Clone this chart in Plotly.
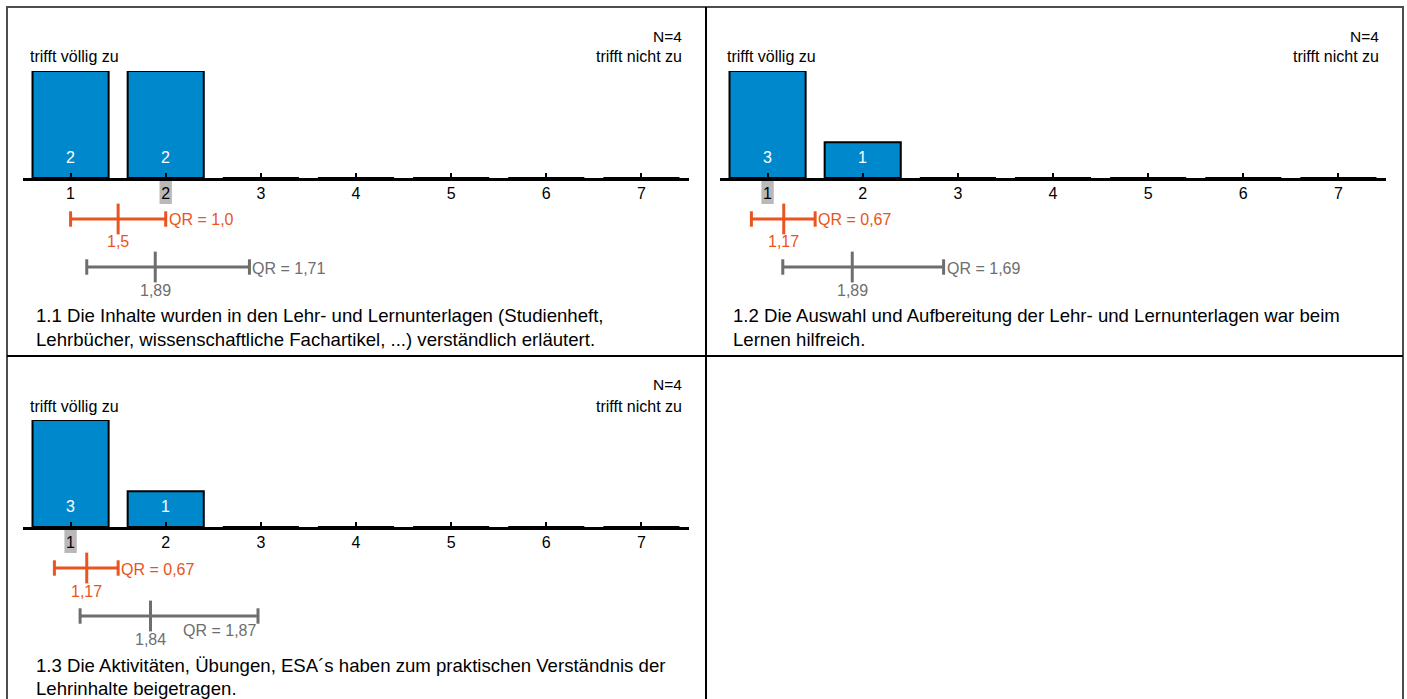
import plotly.graph_objects as go

# ---------------- data ----------------
categories = [1, 2, 3, 4, 5, 6, 7]
tick_labels = ["1", "2", "3", "4", "5", "6", "7"]

counts_11 = [2, 2, 0, 0, 0, 0, 0]
counts_12 = [3, 1, 0, 0, 0, 0, 0]
counts_13 = [3, 1, 0, 0, 0, 0, 0]
counts = [counts_11, counts_12, counts_13]

n_values = [4, 4, 4]
medians = [2, 1, 1]

own_mean = [1.5, 1.17, 1.17]
own_q1 = [1.0, 0.83, 0.83]
own_q3 = [2.0, 1.5, 1.5]
own_mean_labels = ["1,5", "1,17", "1,17"]
own_qr_labels = ["QR = 1,0", "QR = 0,67", "QR = 0,67"]

cmp_mean = [1.89, 1.89, 1.84]
cmp_q1 = [1.17, 1.16, 1.10]
cmp_q3 = [2.88, 2.85, 2.97]
cmp_mean_labels = ["1,89", "1,89", "1,84"]
cmp_qr_labels = ["QR = 1,71", "QR = 1,69", "QR = 1,87"]

questions = [
    ["1.1 Die Inhalte wurden in den Lehr- und Lernunterlagen (Studienheft,",
     "Lehrbücher, wissenschaftliche Fachartikel, ...) verständlich erläutert."],
    ["1.2 Die Auswahl und Aufbereitung der Lehr- und Lernunterlagen war beim",
     "Lernen hilfreich."],
    ["1.3 Die Aktivitäten, Übungen, ESA´s haben zum praktischen Verständnis der",
     "Lehrinhalte beigetragen."],
]
left_label = "trifft völlig zu"
right_label = "trifft nicht zu"

# ---------------- layout helpers ----------------
W, H = 1407, 699
FONT = "Liberation Sans, Arial, sans-serif"
BLUE = "#0088CC"
ORANGE = "#EA5420"
GREY = "#6E6E6E"
GREY_TXT = "#6E6E6E"


def px(x):
    return x / W


def py(y):
    return 1 - y / H


offsets = [(0, 0), (697, 0), (0, 349)]  # panel offsets in pixels
cmp_label_below = [False, False, True]

fig = go.Figure()
annotations = []
shapes = []
layout_axes = {}

ROW_OWN = 219
ROW_CMP = 267

for i in range(3):
    dx, dy = offsets[i]
    k = i + 1
    xa = "x" if k == 1 else f"x{k}"
    ya = "y" if k == 1 else f"y{k}"
    yq = f"y{k + 3}"
    xname = "xaxis" if k == 1 else f"xaxis{k}"
    yname = "yaxis" if k == 1 else f"yaxis{k}"
    yqname = f"yaxis{k + 3}"
    ymax = max(counts[i])

    layout_axes[xname] = dict(
        domain=[px(23 + dx), px(689 + dx)], range=[0.5, 7.5], anchor=ya,
        tickmode="array", tickvals=categories, ticktext=tick_labels,
        showline=True, linecolor="black", linewidth=3,
        ticks="inside", ticklen=5, tickwidth=2, tickcolor="black",
        showgrid=False, zeroline=False, fixedrange=True,
        tickfont=dict(family=FONT, size=16, color="black"),
        ticklabelstandoff=-1,
    )
    layout_axes[yname] = dict(
        domain=[py(178 + dy), py(71 + dy)], range=[0, ymax], anchor=xa,
        visible=False, fixedrange=True,
    )
    layout_axes[yqname] = dict(
        domain=[py(300 + dy), py(195 + dy)], range=[300, 195], anchor=xa,
        visible=False, fixedrange=True,
    )

    # bars
    fig.add_trace(go.Bar(
        x=categories, y=counts[i], width=0.8, xaxis=xa, yaxis=ya,
        marker=dict(color=BLUE, line=dict(color="black", width=2)),
        showlegend=False, hoverinfo="skip",
    ))
    for c, v in zip(categories, counts[i]):
        if v > 0:
            annotations.append(dict(
                x=c, y=0, xref=xa, yref=ya, text=str(v), showarrow=False,
                xanchor="center", yanchor="middle", yshift=21,
                font=dict(family=FONT, size=16, color="white")))

    # interval bars
    for (q1, q3, m, row, col) in [
        (own_q1[i], own_q3[i], own_mean[i], ROW_OWN, ORANGE),
        (cmp_q1[i], cmp_q3[i], cmp_mean[i], ROW_CMP, GREY),
    ]:
        fig.add_trace(go.Scatter(
            x=[q1, q3], y=[row, row], mode="lines", xaxis=xa, yaxis=yq,
            line=dict(color=col, width=3), showlegend=False, hoverinfo="skip",
        ))
        fig.add_trace(go.Scatter(
            x=[q1, q3], y=[row, row], mode="markers", xaxis=xa, yaxis=yq,
            marker=dict(symbol="line-ns", size=11, line=dict(color=col, width=3)),
            showlegend=False, hoverinfo="skip",
        ))
        fig.add_trace(go.Scatter(
            x=[m], y=[row], mode="markers", xaxis=xa, yaxis=yq,
            marker=dict(symbol="line-ns", size=22, line=dict(color=col, width=3)),
            showlegend=False, hoverinfo="skip",
        ))

    # interval labels
    annotations.append(dict(
        x=own_mean[i], y=ROW_OWN + 23, xref=xa, yref=yq, text=own_mean_labels[i],
        showarrow=False, xanchor="center", yanchor="middle",
        font=dict(family=FONT, size=16, color=ORANGE)))
    annotations.append(dict(
        x=own_q3[i], y=ROW_OWN + 1, xref=xa, yref=yq, text=own_qr_labels[i],
        showarrow=False, xanchor="left", yanchor="middle", xshift=1,
        font=dict(family=FONT, size=16, color=ORANGE)))
    annotations.append(dict(
        x=cmp_mean[i], y=ROW_CMP + 23, xref=xa, yref=yq, text=cmp_mean_labels[i],
        showarrow=False, xanchor="center", yanchor="middle",
        font=dict(family=FONT, size=16, color=GREY_TXT)))
    if cmp_label_below[i]:
        annotations.append(dict(
            x=cmp_q3[i], y=ROW_CMP + 14, xref=xa, yref=yq, text=cmp_qr_labels[i],
            showarrow=False, xanchor="right", yanchor="middle",
            font=dict(family=FONT, size=16, color=GREY_TXT)))
    else:
        annotations.append(dict(
            x=cmp_q3[i], y=ROW_CMP + 1, xref=xa, yref=yq, text=cmp_qr_labels[i],
            showarrow=False, xanchor="left", yanchor="middle", xshift=1,
            font=dict(family=FONT, size=16, color=GREY_TXT)))

    # median highlight behind tick label
    shapes.append(dict(
        type="rect", xref=xa, yref="paper",
        x0=medians[i] - 0.065, x1=medians[i] + 0.065,
        y0=py(204 + dy), y1=py(181 + dy),
        fillcolor="#B9B9B9", line=dict(width=0), layer="below"))

    # header labels
    annotations.append(dict(
        x=px(684 + dx), y=py(36 + dy), xref="paper", yref="paper",
        text=f"N={n_values[i]}", showarrow=False, xanchor="right", yanchor="middle",
        font=dict(family=FONT, size=15.5, color="black")))
    annotations.append(dict(
        x=px(684 + dx), y=py(57 + dy), xref="paper", yref="paper",
        text=right_label, showarrow=False, xanchor="right", yanchor="middle",
        font=dict(family=FONT, size=16, color="black")))
    annotations.append(dict(
        x=px(28 + dx), y=py(57 + dy), xref="paper", yref="paper",
        text=left_label, showarrow=False, xanchor="left", yanchor="middle",
        font=dict(family=FONT, size=16, color="black")))

    # question text
    for j, line in enumerate(questions[i]):
        annotations.append(dict(
            x=px(34 + dx), y=py(316 + 23 * j + dy), xref="paper", yref="paper",
            text=line, showarrow=False, xanchor="left", yanchor="middle",
            font=dict(family=FONT, size=18.6, color="black")))

# frame lines
shapes.append(dict(type="rect", xref="paper", yref="paper",
                   x0=px(7), x1=px(1403), y0=py(705), y1=py(7),
                   line=dict(color="#4D4D4D", width=2), layer="above"))
shapes.append(dict(type="line", xref="paper", yref="paper",
                   x0=px(706), x1=px(706), y0=py(705), y1=py(7),
                   line=dict(color="black", width=2), layer="above"))
shapes.append(dict(type="line", xref="paper", yref="paper",
                   x0=px(7), x1=px(1403), y0=py(356), y1=py(356),
                   line=dict(color="black", width=2), layer="above"))

fig.update_layout(
    width=W, height=H, margin=dict(l=0, r=0, t=0, b=0),
    paper_bgcolor="white", plot_bgcolor="rgba(0,0,0,0)",
    showlegend=False, barmode="overlay",
    annotations=annotations, shapes=shapes,
    font=dict(family=FONT),
    **layout_axes,
)

fig.write_html(
    "out.html",
    config={"displayModeBar": False},
    post_script="document.body.style.margin='0';document.body.style.overflow='hidden';",
)
